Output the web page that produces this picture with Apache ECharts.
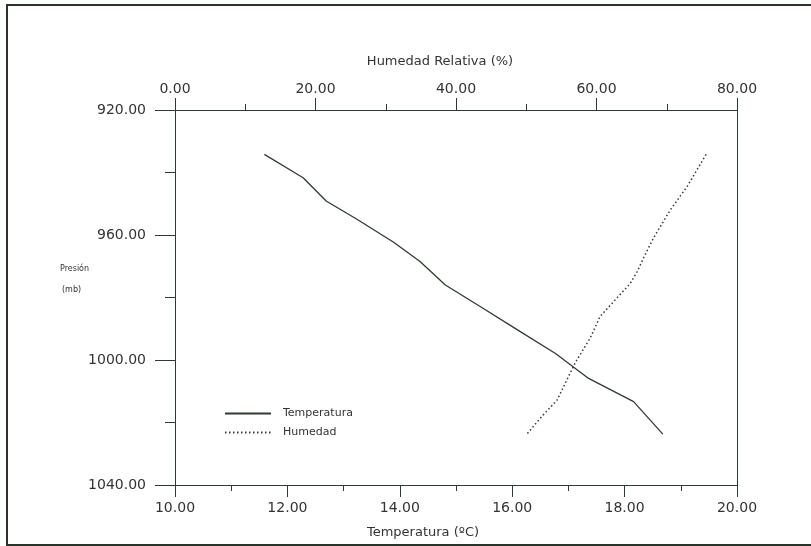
<!DOCTYPE html>
<html>
<head>
<meta charset="utf-8">
<script src="https://cdn.jsdelivr.net/npm/echarts@6/dist/echarts.min.js"></script>
<style>
  html, body { margin: 0; padding: 0; background: #fff; }
  #chart { width: 811px; height: 546px; }
</style>
</head>
<body>
<div id="chart"></div>
<script>
  // datos
  var tempPresion = [934.2, 941.7, 949.1, 954.9, 962.3, 968.5, 976.0, 982.9, 990.2, 997.9, 1005.9, 1013.3, 1023.7]
  var temperatura = [11.59, 12.28, 12.69, 13.23, 13.89, 14.36, 14.81, 15.43, 16.08, 16.77, 17.36, 18.16, 18.68]
  var humPresion = [934.2, 944.5, 952.0, 961.0, 966.4, 971.7, 975.5, 981.9, 986.1, 993.0, 1000.0, 1002.1, 1012.8, 1018.1, 1023.7]
  var humedad = [75.6, 72.9, 70.5, 68.1, 66.9, 65.8, 64.8, 62.2, 60.5, 59.1, 57.2, 56.7, 54.4, 52.2, 50.1]

  var ink = '#2f3a30'
  var txt = '#333'
  var fmt = function (v) { return v.toFixed(2) }

  var myChart = echarts.init(document.getElementById('chart'))
  myChart.setOption({
    animation: false,
    backgroundColor: '#fff',
    textStyle: { fontFamily: 'DejaVu Sans' },
    grid: { left: 175, right: 74, top: 110, bottom: 61 },
    graphic: [
      {
        type: 'rect',
        shape: { x: 7, y: 5, width: 820, height: 540 },
        style: { fill: 'none', stroke: '#2a332a', lineWidth: 2 }
      },
      { type: 'text', left: 60, top: 265, style: { text: 'Presión', font: '8px DejaVu Sans', fill: txt } },
      { type: 'text', left: 62, top: 286, style: { text: '(mb)', font: '8px DejaVu Sans', fill: txt } }
    ],
    legend: {
      orient: 'vertical',
      left: 219,
      top: 403,
      itemWidth: 46,
      itemHeight: 8,
      itemGap: 8,
      itemStyle: { opacity: 0 },
      textStyle: { fontSize: 11, color: txt, padding: [0, 0, 0, 7] },
      data: ['Temperatura', 'Humedad']
    },
    xAxis: [
      {
        type: 'value',
        position: 'bottom',
        min: 10, max: 20, interval: 2,
        name: 'Temperatura (ºC)',
        nameLocation: 'middle',
        nameGap: 41,
        nameTextStyle: { fontSize: 13, color: txt, padding: [0, 66, 0, 0] },
        axisLine: { onZero: false, lineStyle: { color: ink, width: 1 } },
        axisTick: { length: 12, lineStyle: { color: ink } },
        minorTick: { show: true, splitNumber: 2, length: 6, lineStyle: { color: ink } },
        axisLabel: { formatter: fmt, fontSize: 14, color: txt, margin: 16 },
        splitLine: { show: false }
      },
      {
        type: 'value',
        position: 'top',
        min: 0, max: 80, interval: 20,
        name: 'Humedad Relativa (%)',
        nameLocation: 'middle',
        nameGap: 42,
        nameTextStyle: { fontSize: 13, color: txt, padding: [0, 32, 0, 0] },
        axisLine: { onZero: false, lineStyle: { color: ink, width: 1 } },
        axisTick: { length: 12, lineStyle: { color: ink } },
        minorTick: { show: true, splitNumber: 2, length: 6, lineStyle: { color: ink } },
        axisLabel: { formatter: fmt, fontSize: 14, color: txt, margin: 14 },
        splitLine: { show: false }
      }
    ],
    yAxis: [
      {
        type: 'value',
        position: 'left',
        inverse: true,
        min: 920, max: 1040, interval: 40,
        axisLine: { onZero: false, lineStyle: { color: ink, width: 1 } },
        axisTick: { length: 20, lineStyle: { color: ink } },
        minorTick: { show: true, splitNumber: 2, length: 10, lineStyle: { color: ink } },
        axisLabel: { formatter: fmt, fontSize: 14, color: txt, margin: 29 },
        splitLine: { show: false }
      },
      {
        type: 'value',
        position: 'right',
        inverse: true,
        min: 920, max: 1040,
        axisLine: { show: true, onZero: false, lineStyle: { color: ink, width: 1 } },
        axisTick: { show: false },
        axisLabel: { show: false },
        splitLine: { show: false }
      }
    ],
    series: [
      {
        name: 'Temperatura',
        type: 'line',
        xAxisIndex: 0,
        yAxisIndex: 0,
        symbol: 'none',
        itemStyle: { color: ink },
        lineStyle: { color: ink, width: 1.3 },
        data: temperatura.map(function (t, i) { return [t, tempPresion[i]] })
      },
      {
        name: 'Humedad',
        type: 'line',
        xAxisIndex: 1,
        yAxisIndex: 0,
        symbol: 'none',
        itemStyle: { color: ink },
        lineStyle: { color: ink, width: 1.5, type: [1.5, 2.5] },
        data: humedad.map(function (h, i) { return [h, humPresion[i]] })
      }
    ]
  })
</script>
</body>
</html>
